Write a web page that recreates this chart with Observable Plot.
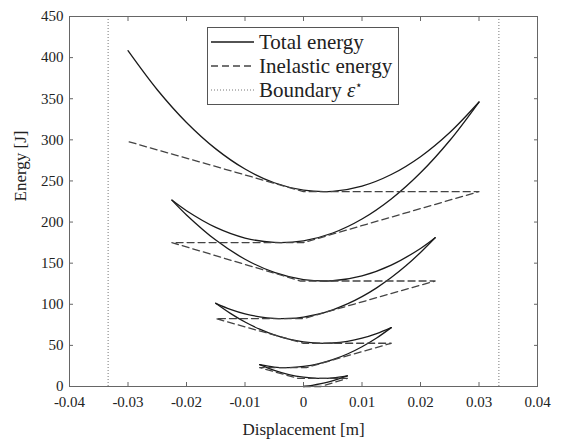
<!DOCTYPE html>
<html>
<head>
<meta charset="utf-8">
<script src="https://cdn.jsdelivr.net/npm/d3@7"></script>
<script src="https://cdn.jsdelivr.net/npm/@observablehq/plot@0.6"></script>
<style>
  body { margin: 0; background: #fff; font-family: "Liberation Serif", "Times New Roman", Times, "DejaVu Serif", serif; }
  #wrap { position: relative; width: 561px; height: 440px; }
  #legend { position: absolute; left: 207px; top: 27px; width: 192px; height: 78px;
            border: 1px solid #555; background: #fff; color: #222; font-size: 21px; box-sizing: border-box;
            font-family: "Liberation Serif", "Times New Roman", Times, serif; }
  .row { position: absolute; left: 3px; height: 24px; display: flex; align-items: center; white-space: nowrap; }
  .row svg { width: 43px; height: 24px; margin-right: 5px; flex: none; }
</style>
</head>
<body>
<div id="wrap">
  <div id="chart"></div>
  <div id="legend">
    <div class="row" style="top:2px"><svg><line x1="0" y1="12" x2="43" y2="12" stroke="#1a1a1a" stroke-width="1.3"/></svg><span>Total energy</span></div>
    <div class="row" style="top:26px"><svg><line x1="0" y1="12" x2="43" y2="12" stroke="#444" stroke-width="1.3" stroke-dasharray="7,4"/></svg><span>Inelastic energy</span></div>
    <div class="row" style="top:50px"><svg><line x1="0" y1="12" x2="43" y2="12" stroke="#777" stroke-width="1" stroke-dasharray="1,2"/></svg><span>Boundary <i>ε</i><sup style="font-size:12px">⋆</sup></span></div>
  </div>
</div>
<script>
// ---- data (displacement [m], energy [J]) ----
const xTicks = [-0.04, -0.03, -0.02, -0.01, 0, 0.01, 0.02, 0.03, 0.04];
const xTickLabels = ["-0.04", "-0.03", "-0.02", "-0.01", "0", "0.01", "0.02", "0.03", "0.04"];
const yTicks = [0, 50, 100, 150, 200, 250, 300, 350, 400, 450];
const boundary = [-0.0334, 0.0334];

// total energy, one array per half-cycle
const total1 = [[0,0],[0.0015,1.5],[0.003,3.5],[0.0045,6],[0.006,9.2],[0.0075,13]];
const total2 = [[0.0075,13],[0.005,10.6],[0.0025,10],[0,11.4],[-0.0025,14.5],[-0.005,19.6],[-0.0075,26.5]];
const total3 = [[-0.0075,26.5],[-0.005,23.6],[-0.0025,23],[0,24.4],[0.0025,27.5],[0.005,32.6],[0.0075,39.5],[0.01,48.4],[0.0125,59],[0.015,71.6]];
const total4 = [[0.015,71.6],[0.0125,64.3],[0.01,58.7],[0.0075,54.9],[0.005,52.9],[0.0025,52.7],[0,54.3],[-0.0025,57.7],[-0.005,62.8],[-0.0075,69.7],[-0.01,78.4],[-0.0125,88.9],[-0.015,101.2]];
const total5 = [[-0.015,101.2],[-0.0125,93.9],[-0.01,88.4],[-0.0075,84.8],[-0.005,82.9],[-0.0025,82.8],[0,84.5],[0.0025,88],[0.005,93.3],[0.0075,100.4],[0.01,109.3],[0.0125,120],[0.015,132.5],[0.0175,146.8],[0.02,163],[0.0225,180.9]];
const total6 = [[0.0225,180.9],[0.02,167.9],[0.015,147.6],[0.01,134.5],[0.005,128.6],[0,130.1],[-0.005,138.8],[-0.01,154.8],[-0.015,178.1],[-0.02,208.7],[-0.0225,226.7]];
const total7 = [[-0.0225,226.7],[-0.02,213.8],[-0.015,193.5],[-0.01,180.6],[-0.005,175.2],[0,177.2],[0.005,186.7],[0.01,203.7],[0.015,228.1],[0.02,259.9],[0.025,299.2],[0.03,346]];
const total8 = [[0.03,346],[0.025,308.9],[0.02,279.5],[0.015,257.8],[0.01,243.7],[0.005,237.4],[0,238.8],[-0.005,247.8],[-0.01,264.5],[-0.015,289],[-0.02,321.1],[-0.025,360.9],[-0.03,408.4]];

// inelastic energy, one continuous path in time order
const inelastic = [[0,0],[0.003,0],[0.0075,10],[-0.001,10],[-0.0075,23],[0.0005,23],[0.015,52.6],[0,52.6],[-0.015,82.6],[0,82.6],[0.0225,128.3],[-0.0005,128.3],[-0.0225,175],[0,175],[0.03,237],[0,237],[-0.03,298]];

// ---- build tables ----
const halfCycles = [total1, total2, total3, total4, total5, total6, total7, total8];
const totalRows = halfCycles.flatMap((arr, k) => arr.map(([x, e]) => ({x, e, seg: k})));
const inelRows = inelastic.map(([x, e]) => ({x, e}));
const fmtX = d => xTickLabels[xTicks.indexOf(d)];
const serif = '"Liberation Serif", "Times New Roman", Times, serif';

const chart = Plot.plot({
  width: 561,
  height: 440,
  marginLeft: 69,
  marginRight: 24,
  marginTop: 16,
  marginBottom: 54,
  style: {fontFamily: serif, fontSize: "15px", color: "#222", background: "#fff"},
  x: {domain: [-0.04, 0.04]},
  y: {domain: [0, 450]},
  marks: [
    Plot.ruleX(boundary, {stroke: "#777", strokeWidth: 1, strokeDasharray: "1,2"}),
    Plot.line(totalRows, {x: "x", y: "e", z: "seg", curve: "catmull-rom", stroke: "#1a1a1a", strokeWidth: 1.3}),
    Plot.line(inelRows, {x: "x", y: "e", stroke: "#444", strokeWidth: 1.3, strokeDasharray: "7,4"}),
    Plot.frame({stroke: "#666", strokeWidth: 1}),
    Plot.axisX(xTicks, {anchor: "bottom", tickSize: -4, tickPadding: 14, tickFormat: fmtX, label: null, stroke: "#666", fontSize: 15, fontFamily: serif}),
    Plot.axisX(xTicks, {anchor: "top", tickSize: -4, tickFormat: () => "", label: null, stroke: "#666"}),
    Plot.axisY(yTicks, {anchor: "left", tickSize: -4, tickPadding: 10, label: null, stroke: "#666", fontSize: 15, fontFamily: serif}),
    Plot.axisY(yTicks, {anchor: "right", tickSize: -4, tickFormat: () => "", label: null, stroke: "#666"}),
    Plot.text(["Displacement [m]"], {frameAnchor: "bottom", dy: 43, lineAnchor: "middle", fontSize: 17, fill: "#222", fontFamily: serif}),
    Plot.text(["Energy [J]"], {frameAnchor: "left", dx: -49, rotate: -90, fontSize: 17, fill: "#222", fontFamily: serif})
  ]
});
document.getElementById("chart").appendChild(chart);
</script>
</body>
</html>
